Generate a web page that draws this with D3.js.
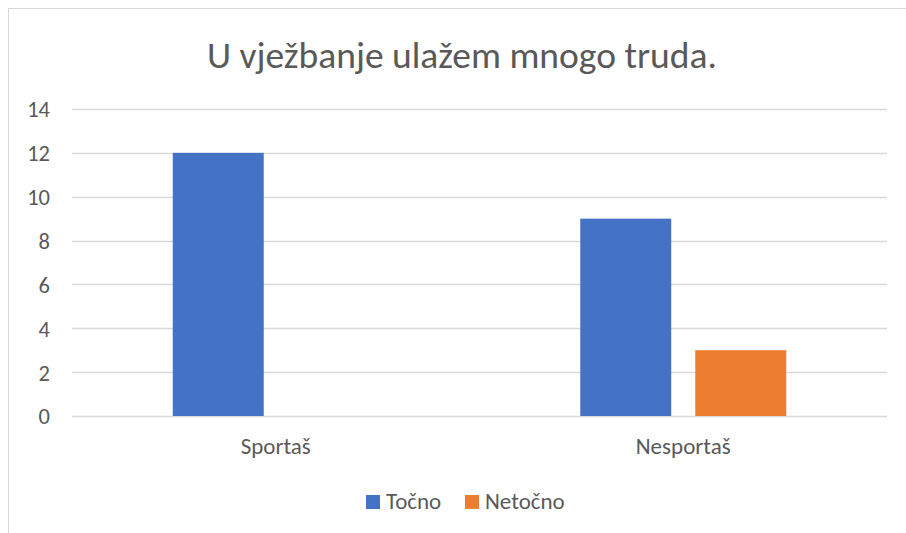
<!DOCTYPE html>
<html>
<head>
<meta charset="utf-8">
<script src="https://cdn.jsdelivr.net/npm/d3@7"></script>
<style>
  body { margin: 0; background: #fff; }
  text { font-family: Carlito, "Liberation Sans", Arial, sans-serif; fill: #595959; }
</style>
</head>
<body>
<svg width="906" height="533"></svg>
<script>
var title = "U vježbanje ulažem mnogo truda.";
var kategorije = ["Sportaš", "Nesportaš"];
var serije = ["Točno", "Netočno"];
var boje = ["#4472c4", "#ed7d31"];
var tocno = [12, 9];
var netocno = [0, 3];
var yTicks = [0, 2, 4, 6, 8, 10, 12, 14];

var svg = d3.select("svg");

// okvir grafikona
svg.append("rect")
   .attr("x", 8.5).attr("y", 8.5)
   .attr("width", 910).attr("height", 540)
   .attr("fill", "none").attr("stroke", "#d9d9d9");

svg.append("text")
   .attr("x", 462).attr("y", 68)
   .attr("text-anchor", "middle")
   .style("font-size", "37.5px")
   .text(title);

var x = d3.scaleBand().domain(kategorije).range([72, 887]);
var y = d3.scaleLinear().domain([0, 14]).range([416, 109]);
var xSub = d3.scaleBand().domain(serije).range([0, x.bandwidth()]).paddingInner(0.209).paddingOuter(0.876);

// mreža
svg.selectAll(".grid").data(yTicks).enter().append("line")
   .attr("x1", 72).attr("x2", 887)
   .attr("y1", function(d){ return Math.round(y(d)) + 0.5; })
   .attr("y2", function(d){ return Math.round(y(d)) + 0.5; })
   .attr("stroke", "#d9d9d9").attr("stroke-width", 1.3);

var yAxis = svg.append("g")
   .attr("transform", "translate(50,0)")
   .call(d3.axisLeft(y).tickValues(yTicks).tickSize(0).tickPadding(0));
yAxis.select(".domain").remove();
yAxis.selectAll("text").style("font-size", "22.5px").attr("dy", "0.35em");

var data = kategorije.map(function(k, i){
  return [{k: k, s: serije[0], v: tocno[i]}, {k: k, s: serije[1], v: netocno[i]}];
});
var sviPodaci = [].concat.apply([], data);

svg.selectAll(".bar").data(sviPodaci).enter().append("rect")
   .attr("class", "bar")
   .attr("x", function(d){ return x(d.k) + xSub(d.s); })
   .attr("width", xSub.bandwidth())
   .attr("y", function(d){ return y(d.v); })
   .attr("height", function(d){ return y(0) - y(d.v); })
   .attr("fill", function(d){ return boje[serije.indexOf(d.s)]; });

var xAxis = svg.append("g")
   .attr("transform", "translate(0,416)")
   .call(d3.axisBottom(x).tickSize(0).tickPadding(0));
xAxis.select(".domain").remove();
xAxis.selectAll("text").style("font-size", "23px").attr("dy", "0").attr("y", 38);

// legenda
var legenda = svg.append("g").attr("transform", "translate(366,495)");
var lx = [0, 99];
serije.forEach(function(s, i){
  legenda.append("rect")
     .attr("x", lx[i]).attr("y", 0).attr("width", 14).attr("height", 14)
     .attr("fill", boje[i]);
  legenda.append("text")
     .attr("x", lx[i] + 20).attr("y", 14)
     .style("font-size", "23px")
     .text(s);
});
</script>
</body>
</html>
